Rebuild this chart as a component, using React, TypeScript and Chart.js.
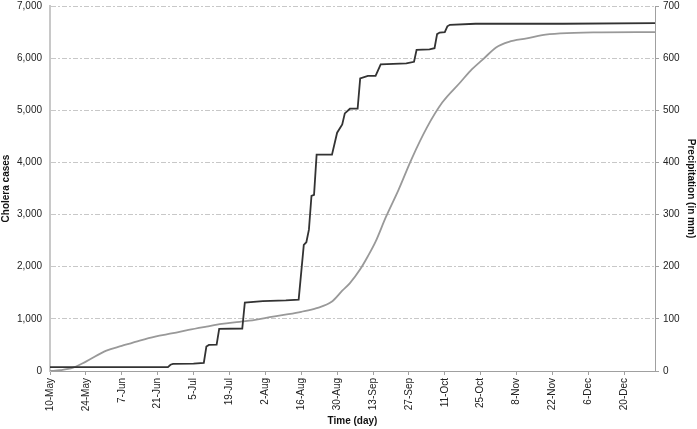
import React, { useEffect, useRef } from "react";
import { Chart, registerables } from "chart.js";

Chart.register(...registerables);

// X axis: days counted from 10-May, one tick label every 14 days
const tickLabels = [
  "10-May", "24-May", "7-Jun", "21-Jun", "5-Jul", "19-Jul", "2-Aug", "16-Aug", "30-Aug",
  "13-Sep", "27-Sep", "11-Oct", "25-Oct", "8-Nov", "22-Nov", "6-Dec", "20-Dec",
];
const tickStepDays = 14;
const lastDay = 236;

// Cumulative precipitation (mm), black stepped line, right axis
const precipDays = [
  0, 46, 47, 48, 56, 60, 61, 62, 65, 66, 75, 76, 83, 92, 97, 99, 100, 101, 102, 103, 104,
  110, 112, 114, 115, 117, 120, 121, 124, 127, 128, 129, 139, 142, 143, 148, 150, 151, 152,
  154, 155, 156, 166, 200, 236,
];
const precipMm = [
  7.5, 7.5, 12, 13.5, 14, 15.5, 47, 50, 50.5, 80.8, 81.5, 131.3, 134, 135.5, 137, 242, 247,
  271, 336, 338, 415, 415, 457, 473, 494, 503, 503, 561, 566, 566, 577, 588, 590, 593, 616,
  617, 619, 646, 649, 650, 661, 664, 666, 666, 667,
];

// Cumulative cholera cases, grey smooth line, left axis
const caseDays = [
  0, 4, 9, 14, 22, 28, 35, 41, 48, 54, 61, 67, 74, 80, 87, 93, 98, 104, 110, 114, 117, 121,
  124, 127, 131, 136, 141, 147, 153, 160, 164, 169, 174, 179, 186, 192, 199, 212, 236,
];
const caseCounts = [
  0, 15, 63, 180, 390, 480, 583, 660, 725, 788, 852, 904, 942, 981, 1044, 1090, 1135, 1205,
  1333, 1540, 1686, 1950, 2200, 2480, 2950, 3480, 4060, 4667, 5148, 5533, 5756, 5981, 6206,
  6314, 6379, 6442, 6474, 6494, 6500,
];

const FONT = "'Liberation Sans', Arial, sans-serif";

export default function App() {
  const canvasRef = useRef<HTMLCanvasElement | null>(null);

  useEffect(() => {
    const canvas = canvasRef.current;
    if (!canvas) return;
    const chart = new Chart(canvas, {
      type: "line",
      data: {
        datasets: [
          {
            label: "Cholera cases",
            data: caseDays.map((d, i) => ({ x: d, y: caseCounts[i] })),
            yAxisID: "y",
            borderColor: "#999999",
            borderWidth: 1.8,
            pointRadius: 0,
            cubicInterpolationMode: "monotone",
            fill: false,
            order: 2,
          },
          {
            label: "Precipitation",
            data: precipDays.map((d, i) => ({ x: d, y: precipMm[i] })),
            yAxisID: "y1",
            borderColor: "#333333",
            borderWidth: 1.8,
            pointRadius: 0,
            tension: 0,
            fill: false,
            order: 1,
          },
        ],
      },
      options: {
        animation: false,
        responsive: true,
        maintainAspectRatio: false,
        layout: { padding: { top: 6, left: 0, right: 0, bottom: 0 } },
        plugins: { legend: { display: false }, tooltip: { enabled: false } },
        scales: {
          x: {
            type: "linear",
            min: 0,
            max: lastDay,
            afterBuildTicks: (scale: any) => {
              scale.ticks = tickLabels.map((_, i) => ({ value: i * tickStepDays }));
            },
            afterFit: (scale: any) => {
              scale.height = 58;
              scale.paddingLeft = 0;
              scale.paddingRight = 0;
            },
            ticks: {
              autoSkip: false,
              minRotation: 90,
              maxRotation: 90,
              padding: 3,
              color: "#222",
              font: { family: FONT, size: 10 },
              callback: (_v: any, i: number) => tickLabels[i],
            },
            grid: {
              drawOnChartArea: false,
              drawTicks: true,
              tickLength: 4,
              tickColor: "#a0a0a0",
            },
            border: { color: "#a0a0a0", width: 1 },
            title: {
              display: true,
              text: "Time (day)",
              color: "#111",
              font: { family: FONT, size: 10, weight: "bold" },
              padding: { top: 0, bottom: 2 },
            },
          },
          y: {
            position: "left",
            min: 0,
            max: 7000,
            afterFit: (scale: any) => {
              scale.width = 50;
              scale.paddingTop = 0;
              scale.paddingBottom = 0;
            },
            ticks: {
              stepSize: 1000,
              padding: 8,
              color: "#222",
              font: { family: FONT, size: 10 },
              callback: (v: any) => Number(v).toLocaleString("en-US"),
            },
            grid: {
              drawTicks: false,
              color: "#c8c8c8",
              lineWidth: 1,
            },
            border: { color: "#c8c8c8", width: 2, dash: [5, 2, 2, 2] },
            title: {
              display: true,
              text: "Cholera cases",
              color: "#111",
              font: { family: FONT, size: 10, weight: "bold" },
              padding: { top: 0, bottom: 0 },
            },
          },
          y1: {
            position: "right",
            min: 0,
            max: 700,
            afterFit: (scale: any) => {
              scale.width = 42;
              scale.paddingTop = 0;
              scale.paddingBottom = 0;
            },
            ticks: {
              stepSize: 100,
              padding: 4,
              color: "#222",
              font: { family: FONT, size: 10 },
            },
            grid: {
              drawOnChartArea: false,
              drawTicks: true,
              tickLength: 4,
              tickColor: "#a0a0a0",
            },
            border: { color: "#a0a0a0", width: 1 },
            title: {
              display: true,
              text: "Precipitation (in mm)",
              color: "#111",
              font: { family: FONT, size: 10, weight: "bold" },
              padding: { top: 0, bottom: 0 },
            },
          },
        },
      },
    });
    return () => chart.destroy();
  }, []);

  return (
    <div
      style={{
        position: "fixed",
        left: 0,
        top: 0,
        width: 697,
        height: 429,
        background: "#fff",
      }}
    >
      <canvas ref={canvasRef} />
    </div>
  );
}
